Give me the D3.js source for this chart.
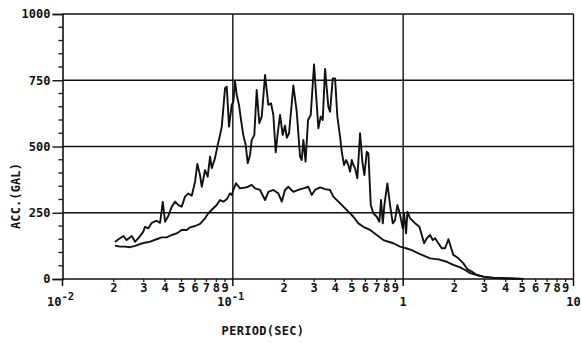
<!DOCTYPE html>
<html>
<head>
<meta charset="utf-8">
<script src="https://cdn.jsdelivr.net/npm/d3@7"></script>
<style>
    body { margin: 0; background: #fff; }
    svg { display: block; }
    text { font-family: 'DejaVu Sans Mono', monospace; font-weight: bold; fill: #111; }
</style>
</head>
<body>
<svg id="chart" width="581" height="343"></svg>
<script>
// Peak response curve (period in sec, acceleration in gal)
const upperPeriod = [0.0203, 0.0213, 0.0228, 0.0238, 0.0255, 0.0267, 0.0279, 0.0298, 0.0305, 0.0319,
    0.0334, 0.0357, 0.0374, 0.0388, 0.0400, 0.0418, 0.0438, 0.0458, 0.0479, 0.0501,
    0.0524, 0.0548, 0.0574, 0.0600, 0.0619, 0.0642, 0.0657, 0.0687, 0.0712, 0.0735,
    0.0752, 0.0786, 0.0815, 0.0841, 0.0861, 0.0900, 0.0921, 0.0950, 0.0985, 0.1007,
    0.103, 0.1054, 0.1087, 0.1117, 0.1152, 0.119, 0.1223, 0.1262, 0.1291, 0.1337,
    0.1381, 0.143, 0.1478, 0.1546, 0.1616, 0.1676, 0.1729, 0.1786, 0.1835, 0.1893,
    0.1963, 0.2025, 0.2073, 0.2138, 0.2266, 0.2373, 0.2481, 0.2539, 0.2594, 0.2673,
    0.2764, 0.2867, 0.2998, 0.3178, 0.3283, 0.3372, 0.3478, 0.3637, 0.3722, 0.386,
    0.3982, 0.4108, 0.4261, 0.436, 0.4498, 0.4621, 0.4767, 0.4878, 0.4991, 0.5101,
    0.5219, 0.5384, 0.5584, 0.576, 0.5919, 0.6114, 0.6248, 0.6453, 0.6683, 0.6998,
    0.7249, 0.7417, 0.759, 0.7756, 0.8077, 0.8378, 0.8688, 0.8962, 0.9246, 0.959,
    0.9945, 1.012, 1.04, 1.059, 1.098, 1.123, 1.175, 1.245, 1.286, 1.327,
    1.376, 1.439, 1.492, 1.539, 1.609, 1.685, 1.762, 1.843, 1.903, 1.971,
    2.11, 2.257, 2.382, 2.528, 2.705, 2.958, 3.238, 3.707, 4.438, 5.078];
const upperAcc = [140, 150, 162, 147, 162, 141, 154, 179, 197, 191,
    212, 220, 212, 291, 216, 238, 273, 292, 279, 273,
    311, 323, 314, 367, 434, 392, 348, 411, 386, 462,
    418, 456, 506, 543, 575, 720, 726, 575, 657, 669,
    747, 694, 657, 600, 543, 506, 437, 468, 525, 543,
    713, 588, 613, 770, 657, 663, 619, 478, 550, 619,
    543, 579, 533, 550, 730, 631, 462, 449, 525, 443,
    600, 619, 810, 569, 613, 600, 793, 650, 631, 757,
    757, 613, 537, 480, 430, 449, 430, 405, 449, 430,
    418, 380, 550, 443, 392, 480, 474, 279, 248, 235,
    216, 298, 210, 279, 361, 279, 210, 223, 279, 242,
    191, 248, 172, 254, 229, 223, 210, 197, 166, 135,
    154, 166, 147, 154, 135, 116, 116, 150, 122, 91,
    78, 59, 37, 28, 15, 9, 5, 3, 1, 0];

// Smooth (lower) curve
const lowerPeriod = [0.0203, 0.0218, 0.0233, 0.0249, 0.0267, 0.0285, 0.0305, 0.0327, 0.0357, 0.0382,
    0.0409, 0.0438, 0.0468, 0.0501, 0.0536, 0.0561, 0.06, 0.0642, 0.0687, 0.0718,
    0.0768, 0.0804, 0.0841, 0.088, 0.0921, 0.0963, 0.0985, 0.1007, 0.1044, 0.1102,
    0.1206, 0.1291, 0.135, 0.1444, 0.1546, 0.1616, 0.1729, 0.185, 0.1937, 0.2025,
    0.2118, 0.2266, 0.2424, 0.2594, 0.2775, 0.2906, 0.3039, 0.3251, 0.3478, 0.3722,
    0.3891, 0.4164, 0.4456, 0.4767, 0.5101, 0.5458, 0.5839, 0.6392, 0.6998, 0.7651,
    0.876, 0.959, 1.04, 1.123, 1.257, 1.439, 1.609, 1.803, 1.971, 2.158,
    2.309, 2.471, 2.705, 2.958, 3.386, 4.058, 5.078];
const lowerAcc = [126, 122, 122, 120, 125, 132, 137, 141, 150, 157,
    157, 166, 172, 185, 185, 195, 200, 208, 229, 248,
    267, 279, 298, 292, 301, 323, 317, 336, 361, 342,
    346, 355, 342, 336, 298, 329, 336, 323, 292, 336,
    348, 329, 336, 342, 348, 317, 336, 346, 339, 336,
    311, 292, 273, 254, 235, 210, 197, 185, 166, 147,
    135, 122, 116, 109, 94, 78, 74, 65, 53, 44,
    34, 22, 15, 9, 5, 3, 0];

// Axis ticks
const yMajorTicks = [0, 250, 500, 750, 1000];
const yMinorStep = 50;
const xDecades = [0.01, 0.1, 1, 10];
const xDecadeBase = ['10', '10', '1', '10'];
const xDecadeExp = ['-2', '-1', '', ''];
const xMinorDigits = [2, 3, 4, 5, 6, 7, 8, 9];

const margin = { left: 62.5, right: 7.5, top: 14, bottom: 64 };
const width = 581;
const height = 343;

const x = d3.scaleLog().domain([0.01, 10]).range([margin.left, width - margin.right]);
const y = d3.scaleLinear().domain([0, 1000]).range([height - margin.bottom, margin.top]);

const svg = d3.select('#chart');

// grid lines
const gGrid = svg.append('g')
    .attr('stroke', '#111')
    .attr('stroke-width', 1.4);

gGrid.selectAll('.hgrid')
    .data(yMajorTicks.filter(d => d > 0))
    .enter()
    .append('line')
    .attr('x1', x(0.01))
    .attr('x2', x(10))
    .attr('y1', d => y(d))
    .attr('y2', d => y(d));

gGrid.selectAll('.vgrid')
    .data(xDecades.slice(1))
    .enter()
    .append('line')
    .attr('x1', d => x(d))
    .attr('x2', d => x(d))
    .attr('y1', y(0))
    .attr('y2', y(1000));

// y axis
const yAxis = d3.axisLeft(y)
    .tickValues(yMajorTicks)
    .tickSize(10)
    .tickPadding(2)
    .tickFormat(d3.format('d'));

const gY = svg.append('g')
    .attr('transform', 'translate(' + x(0.01) + ',0)')
    .call(yAxis);
gY.select('.domain').attr('stroke', '#111').attr('stroke-width', 1.6);
gY.selectAll('.tick line').attr('stroke', '#111').attr('stroke-width', 1.4);
gY.selectAll('.tick text')
    .attr('font-size', 12)
    .attr('font-family', null)
    .attr('fill', '#111');

const yMinor = d3.range(0, 1000 + 1, yMinorStep).filter(d => yMajorTicks.indexOf(d) < 0);
gY.selectAll('.minor')
    .data(yMinor)
    .enter()
    .append('line')
    .attr('class', 'minor')
    .attr('x1', -4)
    .attr('x2', 0)
    .attr('y1', d => y(d))
    .attr('y2', d => y(d))
    .attr('stroke', '#111')
    .attr('stroke-width', 1.3);

// x axis: decade ticks and the 2..9 minor ticks
const gX = svg.append('g')
    .attr('transform', 'translate(0,' + y(0) + ')');

gX.append('line')
    .attr('x1', x(0.01))
    .attr('x2', x(10))
    .attr('stroke', '#111')
    .attr('stroke-width', 1.6);

const minorTicks = [];
xDecades.slice(0, -1).forEach(dec => {
    xMinorDigits.forEach(m => minorTicks.push({ value: dec * m, label: m }));
});

gX.selectAll('.xminor')
    .data(minorTicks)
    .enter()
    .append('line')
    .attr('x1', d => x(d.value))
    .attr('x2', d => x(d.value))
    .attr('y1', 0)
    .attr('y2', 3)
    .attr('stroke', '#111')
    .attr('stroke-width', 1.3);

gX.selectAll('.xminorlabel')
    .data(minorTicks)
    .enter()
    .append('text')
    .attr('x', d => x(d.value))
    .attr('y', 13)
    .attr('text-anchor', 'middle')
    .attr('font-size', 12)
    .text(d => d.label);

gX.selectAll('.xmajor')
    .data(xDecades)
    .enter()
    .append('line')
    .attr('x1', d => x(d))
    .attr('x2', d => x(d))
    .attr('y1', 0)
    .attr('y2', 7)
    .attr('stroke', '#111')
    .attr('stroke-width', 1.5);

const decadeLabels = gX.selectAll('.xmajorlabel')
    .data(xDecades)
    .enter()
    .append('text')
    .attr('x', (d, i) => x(d) + (xDecadeExp[i] ? -2 : 0))
    .attr('y', 27)
    .attr('text-anchor', 'middle')
    .attr('font-size', 12);

decadeLabels.append('tspan')
    .text((d, i) => xDecadeBase[i]);
decadeLabels.append('tspan')
    .attr('dy', -6)
    .attr('font-size', 10.5)
    .text((d, i) => xDecadeExp[i]);

// axis titles
svg.append('text')
    .attr('x', 263)
    .attr('y', 335)
    .attr('text-anchor', 'middle')
    .attr('font-size', 12)
    .attr('letter-spacing', 0.3)
    .text('PERIOD(SEC)');

svg.append('text')
    .attr('transform', 'translate(20,196) rotate(-90)')
    .attr('text-anchor', 'middle')
    .attr('font-size', 12)
    .attr('letter-spacing', 0.1)
    .text('ACC.(GAL)');

// curves
const line = d3.line()
    .x(d => x(d[0]))
    .y(d => y(d[1]));

const curves = [
    d3.zip(upperPeriod, upperAcc),
    d3.zip(lowerPeriod, lowerAcc)
];

svg.selectAll('.curve')
    .data(curves)
    .enter()
    .append('path')
    .attr('class', 'curve')
    .attr('fill', 'none')
    .attr('stroke', '#111')
    .attr('stroke-width', 1.9)
    .attr('stroke-linejoin', 'round')
    .attr('d', line);
</script>
</body>
</html>
